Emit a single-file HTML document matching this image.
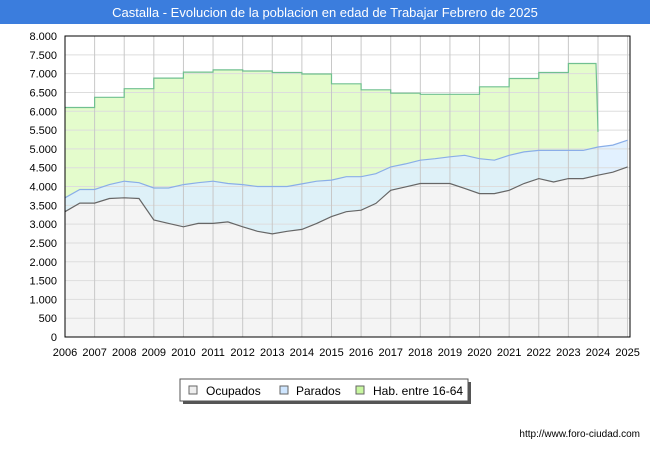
<!DOCTYPE html>
<html><head><meta charset="utf-8"><style>
body{margin:0;background:#fff;font-family:"Liberation Sans","DejaVu Sans",sans-serif}
#wrap{position:relative;width:650px;height:450px;overflow:hidden}
</style></head><body>
<div id="wrap">
<svg id="chart" width="650" height="450" xmlns="http://www.w3.org/2000/svg">
<rect x="0" y="0" width="650" height="24" fill="#3b7ddd"/>
<text x="325" y="17" text-anchor="middle" font-size="13" fill="#fff">Castalla - Evolucion de la poblacion en edad de Trabajar Febrero de 2025</text>
<g id="grid"></g><g id="series"></g><g id="axes"></g>
<rect x="65" y="36" width="565" height="301" fill="none" stroke="#000" stroke-width="1"/>
<g>
<rect x="183" y="382" width="288" height="22" fill="#555"/>
<rect x="180" y="379" width="288" height="22" fill="#fff" stroke="#555"/>
<rect x="189" y="386" width="8" height="8" fill="#eee" stroke="#666"/>
<text x="206" y="395" font-size="12" fill="#000">Ocupados</text>
<rect x="280" y="386" width="8" height="8" fill="#cfe6ff" stroke="#666"/>
<text x="296" y="395" font-size="12" fill="#000">Parados</text>
<rect x="356" y="386" width="8" height="8" fill="#c8f7a0" stroke="#666"/>
<text x="373" y="395" font-size="12" fill="#000">Hab. entre 16-64</text>
</g>
<text x="640" y="437" text-anchor="end" font-size="10" fill="#000">http://www.foro-ciudad.com</text>
</svg></div>
<script>
const years=[2006,2007,2008,2009,2010,2011,2012,2013,2014,2015,2016,2017,2018,2019,2020,2021,2022,2023,2024,2025];
const yTicks=[0,500,1000,1500,2000,2500,3000,3500,4000,4500,5000,5500,6000,6500,7000,7500,8000];
const habYears=[2006,2007,2008,2009,2010,2011,2012,2013,2014,2015,2016,2017,2018,2019,2020,2021,2022,2023];
const habValues=[6100,6370,6600,6880,7040,7100,7070,7030,6990,6730,6570,6480,6450,6450,6650,6870,7030,7270];
const halfYearTimes=[2006,2006.5,2007,2007.5,2008,2008.5,2009,2009.5,2010,2010.5,2011,2011.5,2012,2012.5,2013,2013.5,2014,2014.5,2015,2015.5,2016,2016.5,2017,2017.5,2018,2018.5,2019,2019.5,2020,2020.5,2021,2021.5,2022,2022.5,2023,2023.5,2024,2024.5,2025];
const ocupados=[3330,3560,3560,3680,3700,3680,3110,3020,2930,3020,3020,3060,2930,2810,2740,2810,2860,3020,3200,3330,3370,3550,3900,3990,4080,4080,4080,3950,3810,3810,3900,4080,4210,4120,4210,4210,4300,4380,4520];
const paradosTop=[3700,3920,3920,4050,4140,4100,3960,3960,4050,4100,4140,4080,4050,4000,4000,4000,4070,4140,4170,4260,4260,4340,4520,4600,4700,4740,4790,4830,4740,4700,4830,4920,4960,4960,4960,4960,5050,5100,5230];
const habEndValue=5450;
const NS='http://www.w3.org/2000/svg';
const X0=65,X1=627.6,Y0=337,Y1=36;
const xs=t=>X0+(t-2006)/(2025-2006)*(X1-X0);
const ys=v=>Y0-v/8000*(Y0-Y1);
function mk(tag,attrs,parent){const e=document.createElementNS(NS,tag);for(const k in attrs)e.setAttribute(k,attrs[k]);parent.appendChild(e);return e;}
const grid=document.getElementById('grid'),ser=document.getElementById('series'),ax=document.getElementById('axes');
mk('rect',{x:X0,y:Y1,width:565,height:301,fill:'#fff'},grid);
// hab area
let hp=[];
habYears.forEach((y,i)=>{hp.push([xs(y),ys(habValues[i])]);hp.push([xs(y+1)-0.01,ys(habValues[i])]);});
hp[hp.length-1]=[xs(2024)-2,ys(habValues[habValues.length-1])];
hp.push([xs(2024),ys(habEndValue)]);
const idx24=halfYearTimes.indexOf(2024);
let hab=mk('path',{d:'M'+hp.map(p=>p[0].toFixed(1)+','+p[1].toFixed(1)).join('L')+'L'+xs(2024)+','+Y0+'L'+X0+','+Y0+'Z',fill:'#e4fccc',stroke:'none'},ser);


const lineOf=arr=>halfYearTimes.map((t,i)=>xs(t).toFixed(1)+','+ys(arr[i]).toFixed(1)).join('L');
let par=mk('path',{d:'M'+lineOf(paradosTop)+'L'+xs(2025)+','+Y0+'L'+X0+','+Y0+'Z',fill:'#ddeeff',stroke:'none','fill-opacity':'0.85'},ser);


let oc=mk('path',{d:'M'+lineOf(ocupados)+'L'+xs(2025)+','+Y0+'L'+X0+','+Y0+'Z',fill:'#f4f4f4',stroke:'none'},ser);


// grid lines
yTicks.forEach(v=>{const l=mk('line',{x1:X0,x2:630,y1:ys(v),y2:ys(v),stroke:'#ddd','stroke-width':1},ser);


const t=mk('text',{x:57,y:ys(v)+4,'text-anchor':'end','font-size':11,fill:'#000'},ax);t.textContent=v.toLocaleString('de-DE',{minimumFractionDigits:3}).replace(',000','');
if(v===0)t.textContent='0';

});
years.forEach(y=>{const l=mk('line',{x1:xs(y),x2:xs(y),y1:Y1,y2:Y0,stroke:'#c8c8c8','stroke-width':1},ser);


const t=mk('text',{x:xs(y),y:356,'text-anchor':'middle','font-size':11,fill:'#000'},ax);t.textContent=y;

});
// lines
let hl=mk('path',{d:'M'+hp.map(p=>p[0].toFixed(1)+','+p[1].toFixed(1)).join('L'),fill:'none',stroke:'#70c090','stroke-width':1.2},ser);


let pl=mk('path',{d:'M'+lineOf(paradosTop),fill:'none',stroke:'#8aaee8','stroke-width':1.2},ser);


let ol=mk('path',{d:'M'+lineOf(ocupados),fill:'none',stroke:'#666','stroke-width':1.2},ser);


</script>
</body></html>
